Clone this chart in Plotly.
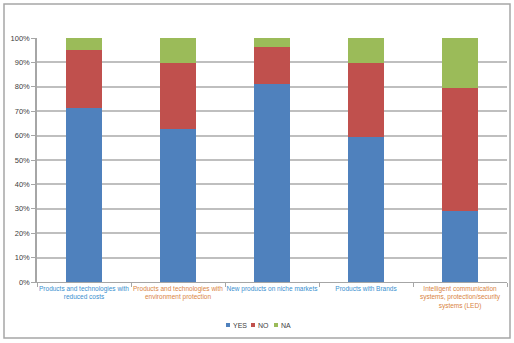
import plotly.graph_objects as go

categories = [
    "Products and technologies with<br>reduced costs",
    "Products and technologies with<br>environment protection",
    "New products on niche markets",
    "Products with Brands",
    "Intelligent communication<br>systems, protection/security<br>systems (LED)",
]
label_colors = ["#3a8fcf", "#d9843f", "#3a8fcf", "#3a8fcf", "#d9843f"]
yes_vals = [71.5, 62.7, 81.2, 59.4, 29.0]
no_vals = [23.4, 27.1, 15.3, 30.2, 50.6]
na_vals = [5.1, 10.2, 3.5, 10.4, 20.4]
series_names = ["YES", "NO", "NA"]
series_colors = ["#4f81bd", "#c0504d", "#9bbb59"]
ytick_vals = list(range(0, 101, 10))
ytick_text = [f"{v}%" for v in ytick_vals]

W, H = 514, 343
L, R, T, B = 37, 7, 38, 61
pw, ph = W - L - R, H - T - B

def px_x(p):
    return (p - L) / pw

def px_y(p):
    return (H - B - p) / ph

fig = go.Figure()
for name, vals, col in zip(series_names, [yes_vals, no_vals, na_vals], series_colors):
    fig.add_trace(go.Bar(
        x=categories, y=vals, name=name, showlegend=False,
        marker=dict(color=col, line=dict(width=0)),
    ))

ticktext = [f"<span style='color:{c}'>{t}</span>" for t, c in zip(categories, label_colors)]

shapes = [dict(
    type="rect", xref="paper", yref="paper",
    x0=px_x(4), x1=px_x(510), y0=px_y(338), y1=px_y(4),
    line=dict(color="#a6a6a6", width=1.5), fillcolor="rgba(0,0,0,0)",
    layer="below",
)]
annotations = []
leg_x = [226, 251, 274]
leg_y = 325
for name, col, lx in zip(series_names, series_colors, leg_x):
    shapes.append(dict(
        type="rect", xref="paper", yref="paper",
        x0=px_x(lx), x1=px_x(lx + 4), y0=px_y(leg_y + 2), y1=px_y(leg_y - 2),
        line=dict(width=0), fillcolor=col,
    ))
    annotations.append(dict(
        xref="paper", yref="paper", x=px_x(lx + 5), y=px_y(leg_y),
        xanchor="left", yanchor="middle", text=name, showarrow=False,
        font=dict(size=7, color="#404040"),
    ))

fig.update_layout(
    width=W, height=H, autosize=False,
    barmode="stack", bargap=0.61,
    margin=dict(l=L, r=R, t=T, b=B, autoexpand=False),
    paper_bgcolor="white", plot_bgcolor="white",
    font=dict(family="Liberation Sans, Arial", size=7, color="#404040"),
    showlegend=False,
    xaxis=dict(
        tickmode="array", tickvals=categories, ticktext=ticktext,
        tickangle=0, showline=True, linecolor="#a6a6a6", linewidth=1,
        ticks="outside", tickson="boundaries", ticklen=4, tickcolor="#a6a6a6",
        tickfont=dict(size=6.5), showgrid=False, automargin=False,
    ),
    yaxis=dict(
        range=[0, 100], tickvals=ytick_vals, ticktext=ytick_text,
        showline=True, linecolor="#a6a6a6", linewidth=1.5,
        ticks="outside", ticklen=4, tickcolor="#a6a6a6",
        gridcolor="#bfbfbf", gridwidth=1.5, zeroline=False,
        tickfont=dict(size=7.5, color="#404040"), automargin=False,
    ),
    shapes=shapes,
    annotations=annotations,
)

fig.write_html("out.html")
